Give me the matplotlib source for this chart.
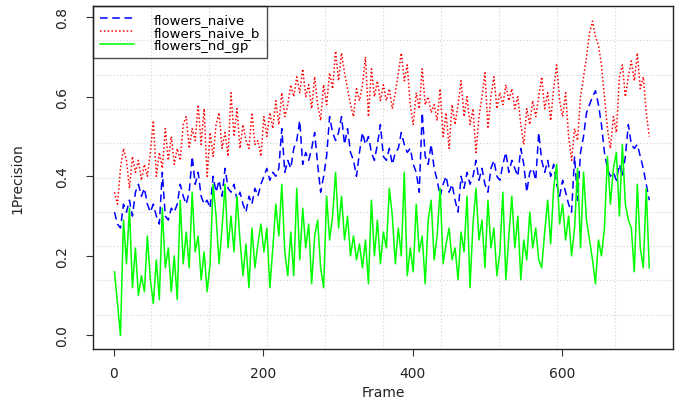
import numpy as np
import matplotlib
matplotlib.use('Agg')
import matplotlib.pyplot as plt

# frame numbers (every 4th frame)
frames = np.arange(1, 721, 4)

naive = [
    0.31, 0.28, 0.27, 0.33, 0.31, 0.34, 0.30, 0.36, 0.38, 0.35,
    0.37, 0.33, 0.31, 0.33, 0.30, 0.28, 0.41, 0.30, 0.29, 0.32,
    0.31, 0.33, 0.38, 0.35, 0.33, 0.36, 0.45, 0.38, 0.41, 0.35,
    0.33, 0.34, 0.32, 0.40, 0.36, 0.39, 0.35, 0.42, 0.37, 0.36,
    0.38, 0.34, 0.36, 0.33, 0.31, 0.35, 0.33, 0.37, 0.35, 0.38,
    0.40, 0.42, 0.39, 0.41, 0.40, 0.42, 0.52, 0.41, 0.44, 0.42,
    0.47, 0.49, 0.54, 0.43, 0.46, 0.44, 0.47, 0.51, 0.43, 0.36,
    0.40, 0.45, 0.55, 0.51, 0.49, 0.51, 0.55, 0.48, 0.52, 0.46,
    0.44, 0.40, 0.46, 0.51, 0.48, 0.50, 0.46, 0.44, 0.48, 0.53,
    0.45, 0.44, 0.47, 0.43, 0.46, 0.47, 0.51, 0.48, 0.46, 0.47,
    0.43, 0.41, 0.36, 0.56, 0.45, 0.43, 0.48, 0.42, 0.39, 0.35,
    0.38, 0.40, 0.36, 0.38, 0.34, 0.31, 0.40, 0.37, 0.41, 0.38,
    0.40, 0.44, 0.39, 0.42, 0.38, 0.36, 0.42, 0.44, 0.40, 0.39,
    0.43, 0.46, 0.41, 0.44, 0.42, 0.40, 0.47, 0.43, 0.36, 0.41,
    0.42, 0.39, 0.51, 0.44, 0.41, 0.44, 0.40, 0.43, 0.38, 0.35,
    0.39, 0.36, 0.33, 0.31, 0.45, 0.34, 0.46, 0.50, 0.56, 0.58,
    0.60, 0.615, 0.58, 0.53, 0.46, 0.42, 0.40, 0.41, 0.39, 0.43,
    0.40, 0.45, 0.53, 0.48, 0.47, 0.48, 0.45, 0.42, 0.38, 0.34,
]

naive_b = [
    0.36, 0.33, 0.42, 0.47, 0.44, 0.37, 0.45, 0.41, 0.44, 0.39,
    0.43, 0.40, 0.46, 0.54, 0.40, 0.46, 0.42, 0.52, 0.44, 0.50,
    0.43, 0.47, 0.44, 0.53, 0.55, 0.47, 0.52, 0.49, 0.58, 0.48,
    0.57, 0.40, 0.51, 0.45, 0.53, 0.56, 0.47, 0.51, 0.45, 0.61,
    0.50, 0.57, 0.47, 0.53, 0.49, 0.47, 0.56, 0.48, 0.49, 0.45,
    0.55, 0.50, 0.56, 0.52, 0.59, 0.53, 0.61, 0.55, 0.58, 0.63,
    0.60, 0.65, 0.61, 0.67, 0.60, 0.63, 0.57, 0.65, 0.58, 0.54,
    0.63, 0.58, 0.66, 0.62, 0.715, 0.64, 0.71, 0.66, 0.62, 0.58,
    0.55, 0.62, 0.59, 0.63, 0.70, 0.55, 0.67, 0.60, 0.64, 0.59,
    0.63, 0.59, 0.62, 0.57, 0.61, 0.66, 0.71, 0.64, 0.68, 0.58,
    0.53, 0.61, 0.57, 0.67, 0.58, 0.60, 0.56, 0.58, 0.54, 0.62,
    0.50, 0.56, 0.47, 0.58, 0.53, 0.58, 0.64, 0.55, 0.60, 0.53,
    0.57, 0.46, 0.55, 0.60, 0.66, 0.52, 0.60, 0.65, 0.57, 0.61,
    0.58, 0.63, 0.59, 0.62, 0.57, 0.60, 0.53, 0.48, 0.57, 0.53,
    0.59, 0.55, 0.60, 0.65, 0.57, 0.61, 0.54, 0.62, 0.68, 0.59,
    0.55, 0.61, 0.50, 0.44, 0.52, 0.49, 0.60, 0.65, 0.70, 0.76,
    0.79, 0.75, 0.73, 0.68, 0.60, 0.52, 0.47, 0.55, 0.51, 0.65,
    0.68, 0.60, 0.65, 0.69, 0.64, 0.71, 0.62, 0.65, 0.56, 0.50,
]

nd_gp = [
    0.16, 0.08, 0.00, 0.29, 0.18, 0.32, 0.12, 0.22, 0.10, 0.15,
    0.11, 0.25, 0.14, 0.08, 0.19, 0.09, 0.32, 0.17, 0.22, 0.11,
    0.20, 0.09, 0.34, 0.18, 0.26, 0.17, 0.36, 0.21, 0.25, 0.14,
    0.21, 0.11, 0.18, 0.38, 0.30, 0.18, 0.27, 0.38, 0.22, 0.30,
    0.21, 0.35, 0.24, 0.15, 0.23, 0.12, 0.27, 0.17, 0.23, 0.28,
    0.21, 0.27, 0.12, 0.22, 0.33, 0.25, 0.38, 0.21, 0.15, 0.26,
    0.15, 0.37, 0.19, 0.32, 0.22, 0.28, 0.13, 0.25, 0.29, 0.17,
    0.12, 0.35, 0.24, 0.30, 0.41, 0.27, 0.35, 0.24, 0.30, 0.20,
    0.25, 0.19, 0.23, 0.17, 0.24, 0.13, 0.34, 0.20, 0.29, 0.18,
    0.26, 0.22, 0.37, 0.30, 0.18, 0.27, 0.20, 0.41, 0.15, 0.22,
    0.16, 0.33, 0.21, 0.25, 0.13, 0.29, 0.34, 0.19, 0.25, 0.37,
    0.18, 0.23, 0.27, 0.19, 0.22, 0.14, 0.26, 0.21, 0.35, 0.12,
    0.28, 0.37, 0.24, 0.29, 0.17, 0.34, 0.22, 0.27, 0.15, 0.21,
    0.36, 0.14, 0.25, 0.35, 0.22, 0.30, 0.14, 0.24, 0.19, 0.31,
    0.22, 0.27, 0.19, 0.17, 0.26, 0.34, 0.23, 0.37, 0.43, 0.28,
    0.33, 0.24, 0.30, 0.20, 0.27, 0.42, 0.22, 0.41, 0.29, 0.24,
    0.19, 0.13, 0.24, 0.20, 0.27, 0.45, 0.33, 0.42, 0.46, 0.30,
    0.48, 0.33, 0.29, 0.27, 0.16, 0.38, 0.22, 0.17, 0.37, 0.17,
]

labels = ['flowers_naive', 'flowers_naive_b', 'flowers_nd_gp']

plt.rcParams['font.family'] = 'DejaVu Sans'

fig = plt.figure(figsize=(6.79, 4.02), dpi=100)
ax = fig.add_axes([93/679, 52/402, 580/679, 343/402])

# R style grid(10, 10): equally spaced dotted lines
for k in range(1, 10):
    ax.plot([k/10, k/10], [0, 1], transform=ax.transAxes, color='#d3d3d3',
            lw=0.8, ls=(0, (1, 2)), zorder=0)
    ax.plot([0, 1], [k/10, k/10], transform=ax.transAxes, color='#d3d3d3',
            lw=0.8, ls=(0, (1, 2)), zorder=0)

ax.plot(frames, naive, color='#0000ff', lw=1.1, ls=(0, (5, 3)), label=labels[0])
ax.plot(frames, naive_b, color='#ff0000', lw=1.1, ls=(0, (1, 1.5)), label=labels[1])
ax.plot(frames, nd_gp, color='#00ff00', lw=1.1, label=labels[2])

ax.set_xlim(-27.8, 748.8)
ax.set_ylim(-0.034, 0.828)
ax.set_xticks([0, 200, 400, 600])
ax.set_yticks([0.0, 0.2, 0.4, 0.6, 0.8])
ax.set_yticklabels(['0.0', '0.2', '0.4', '0.6', '0.8'])
ax.tick_params(length=5, width=0.8, color='#333333', labelsize=10, labelcolor='#222222')
ax.tick_params(axis='x', pad=7)
ax.tick_params(axis='y', pad=12)
plt.setp(ax.get_yticklabels(), rotation=90, va='center')
for s in ax.spines.values():
    s.set_linewidth(1.0)
    s.set_color('#222222')

ax.set_xlabel('Frame', fontsize=10, color='#222222')
ax.set_ylabel('1Precision', fontsize=10, color='#222222')
ax.xaxis.set_label_coords(0.5, -0.105)
ax.yaxis.set_label_coords(-0.118, 0.5)

leg = ax.legend(loc='upper left', bbox_to_anchor=(0, 1), borderaxespad=0,
                fontsize=9.5, frameon=True, fancybox=False, handlelength=2.6,
                handletextpad=1.5, borderpad=0.5, labelspacing=0.0)
leg.get_frame().set_facecolor('none')
leg.get_frame().set_edgecolor('#222222')
leg.get_frame().set_linewidth(1.0)

fig.savefig('out.png', dpi=100)
